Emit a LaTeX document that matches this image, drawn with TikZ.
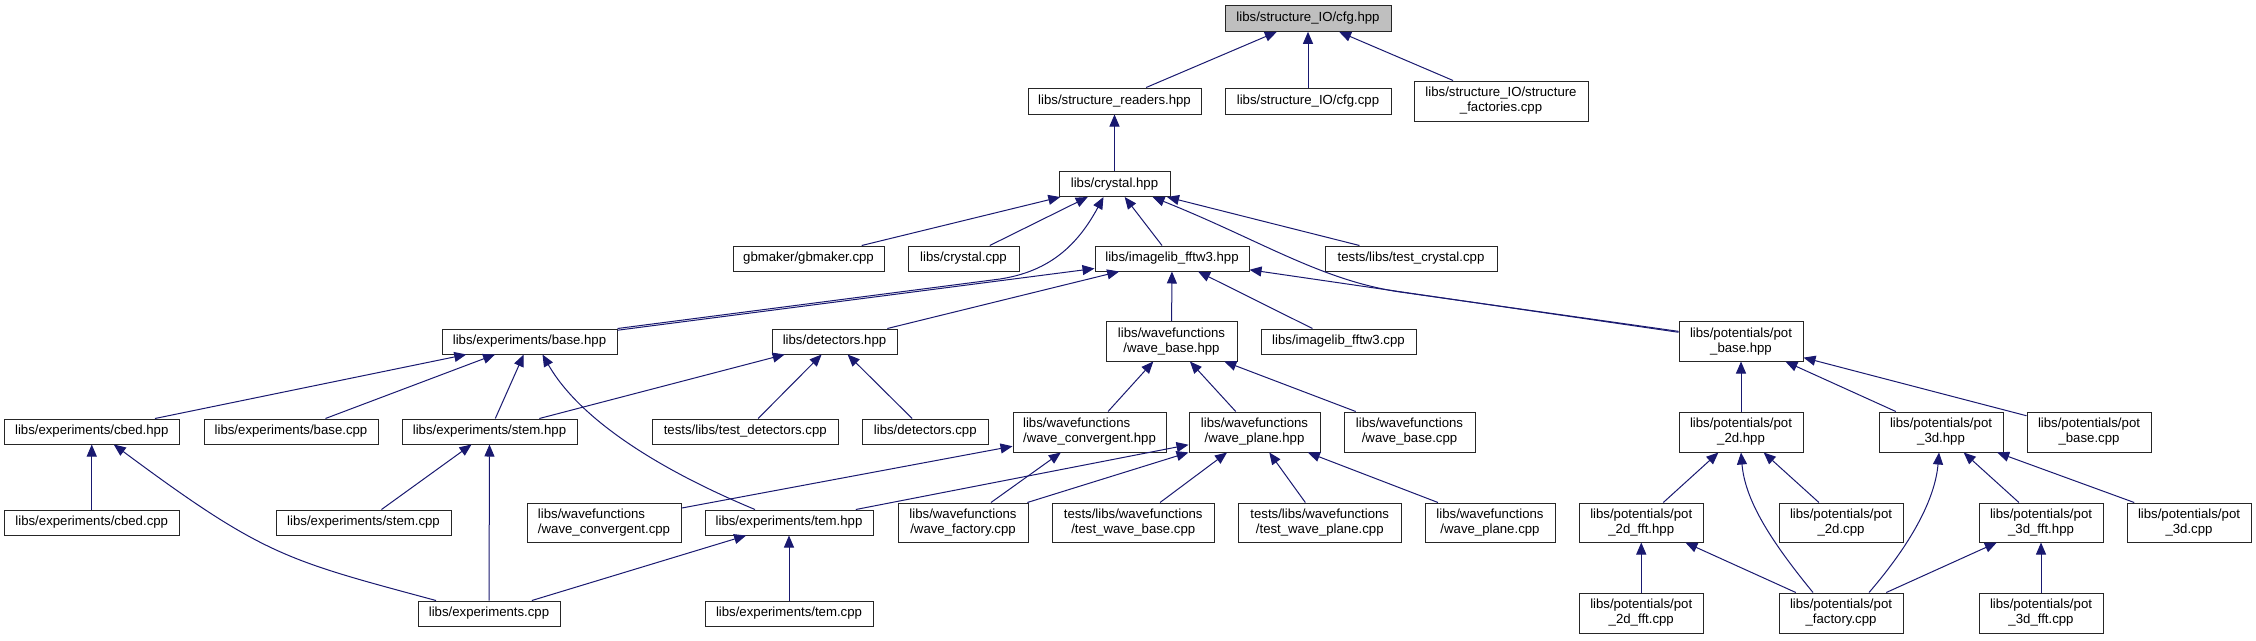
\documentclass[tikz,border=0pt]{standalone}
\usepackage{fontspec}
\setmainfont{Liberation Sans}
\usetikzlibrary{arrows.meta}
\definecolor{midnightblue}{HTML}{191970}
\definecolor{rootgray}{HTML}{BFBFBF}
\tikzset{
  box/.style={draw=black!85, line width=1pt, fill=white, inner sep=0pt, align=center,
    font=\fontsize{13.2}{15}\selectfont},
  rootbox/.style={box, fill=rootgray},
  edge/.style={draw=midnightblue, line width=1pt, -{Triangle[length=12pt,width=10pt]}},
}
\newcommand\gbox[7][box]{\node[#1, minimum width={#5-#3}, minimum height={#6-#4}] (#2) at ({(#3+#5)/2},{(#4+#6)/2}) {#7};}
\begin{document}
\begin{tikzpicture}[x=1pt,y=-1pt]
\useasboundingbox[fill=white] (0,0) rectangle (2256,640);
% row 1
\gbox[rootbox]{cfgh}{1225}{5.7}{1391}{31.3}{libs/structure\_IO/cfg.hpp}
% row 2
\gbox{readers}{1028}{88}{1201}{114}{libs/structure\_readers.hpp}
\gbox{cfgc}{1225}{88}{1391}{114}{libs/structure\_IO/cfg.cpp}
\gbox{fact}{1414}{81}{1588}{121}{libs/structure\_IO/structure\\\_factories.cpp}
% row 3
\gbox{crystal}{1059}{171}{1170}{196.5}{libs/crystal.hpp}
% row 4
\gbox{gbm}{733}{246}{884}{271}{gbmaker/gbmaker.cpp}
\gbox{crysc}{908}{246}{1019}{271}{libs/crystal.cpp}
\gbox{img}{1095}{246}{1249}{271}{libs/imagelib\_fftw3.hpp}
\gbox{tcrys}{1325}{246}{1497}{271}{tests/libs/test\_crystal.cpp}
% row 5
\gbox{base}{442}{329}{617}{354}{libs/experiments/base.hpp}
\gbox{det}{772}{329}{897}{354}{libs/detectors.hpp}
\gbox{wbase}{1106}{321.7}{1237}{361}{libs/wavefunctions\\/wave\_base.hpp}
\gbox{imgc}{1261}{329}{1416}{354}{libs/imagelib\_fftw3.cpp}
\gbox{potbase}{1679}{321.7}{1803}{361}{libs/potentials/pot\\\_base.hpp}
% row 6
\gbox{cbed}{4.5}{419}{179}{444}{libs/experiments/cbed.hpp}
\gbox{basec}{204}{419}{378}{444}{libs/experiments/base.cpp}
\gbox{stem}{402}{419}{577}{444}{libs/experiments/stem.hpp}
\gbox{tdet}{652}{419}{838.5}{444}{tests/libs/test\_detectors.cpp}
\gbox{detc}{862.5}{419}{988}{444}{libs/detectors.cpp}
\gbox[box,align=left]{wconv}{1013}{412}{1166}{452}{libs/wavefunctions\\/wave\_convergent.hpp}
\gbox{wplane}{1189}{412}{1320}{452}{libs/wavefunctions\\/wave\_plane.hpp}
\gbox{wbasec}{1344}{412}{1475}{452}{libs/wavefunctions\\/wave\_base.cpp}
\gbox{p2d}{1679}{412}{1803}{452}{libs/potentials/pot\\\_2d.hpp}
\gbox{p3d}{1879}{412}{2003}{452}{libs/potentials/pot\\\_3d.hpp}
\gbox{pbasec}{2027}{412}{2151}{452}{libs/potentials/pot\\\_base.cpp}
% row 7
\gbox{cbedc}{4.5}{510}{179}{535}{libs/experiments/cbed.cpp}
\gbox{stemc}{276}{510}{451}{535}{libs/experiments/stem.cpp}
\gbox[box,align=left]{wconvc}{527}{503}{681}{542}{libs/wavefunctions\\/wave\_convergent.cpp}
\gbox{tem}{705}{510}{873}{535}{libs/experiments/tem.hpp}
\gbox{wfact}{898}{503}{1028}{542}{libs/wavefunctions\\/wave\_factory.cpp}
\gbox{twbase}{1052}{503}{1214.5}{542}{tests/libs/wavefunctions\\/test\_wave\_base.cpp}
\gbox{twplane}{1238.5}{503}{1401}{542}{tests/libs/wavefunctions\\/test\_wave\_plane.cpp}
\gbox{wplanec}{1425}{503}{1555}{542}{libs/wavefunctions\\/wave\_plane.cpp}
\gbox{p2dfft}{1579.5}{503}{1703}{542}{libs/potentials/pot\\\_2d\_fft.hpp}
\gbox{p2dc}{1779}{503}{1903}{542}{libs/potentials/pot\\\_2d.cpp}
\gbox{p3dfft}{1979}{503}{2103}{542}{libs/potentials/pot\\\_3d\_fft.hpp}
\gbox{p3dc}{2127}{503}{2251}{542}{libs/potentials/pot\\\_3d.cpp}
% row 8
\gbox{expc}{418}{601}{560}{626}{libs/experiments.cpp}
\gbox{temc}{705}{601}{873}{626}{libs/experiments/tem.cpp}
\gbox{p2dfftc}{1579.5}{593}{1703}{633}{libs/potentials/pot\\\_2d\_fft.cpp}
\gbox{pfact}{1779}{593}{1903}{633}{libs/potentials/pot\\\_factory.cpp}
\gbox{p3dfftc}{1979}{593}{2103}{633}{libs/potentials/pot\\\_3d\_fft.cpp}

% edges
\draw[edge] (readers) -- (cfgh);
\draw[edge] (cfgc) -- (cfgh);
\draw[edge] (fact) -- (cfgh);
\draw[edge] (crystal) -- (readers);
\draw[edge] (gbm) -- (crystal);
\draw[edge] (crysc) -- (crystal);
\draw[edge] (img) -- (crystal);
\draw[edge] (tcrys) -- (crystal);
\draw[edge] (base.north east) -- (1000,279) .. controls (1045,272) and (1075,250) .. ([xshift=-11pt]crystal.south);
\draw[edge] ([yshift=10pt]potbase.west) -- (1400,292) .. controls (1320,280) and (1260,240) .. ([xshift=38pt]crystal.south);
\draw[edge] (base) -- (img);
\draw[edge] (det) -- (img);
\draw[edge] (wbase) -- (img);
\draw[edge] (imgc) -- (img);
\draw[edge] (potbase) -- (img);
\draw[edge] (cbed) -- (base);
\draw[edge] (basec) -- (base);
\draw[edge] (stem) -- (base);
\draw[edge] ([xshift=-34pt]tem.north) .. controls (660,470) and (580,420) .. ([xshift=13pt]base.south);
\draw[edge] (stem) -- (det);
\draw[edge] (tdet) -- (det);
\draw[edge] (detc) -- (det);
\draw[edge] (wconv) -- (wbase);
\draw[edge] (wplane) -- (wbase);
\draw[edge] (wbasec) -- (wbase);
\draw[edge] (p2d) -- (potbase);
\draw[edge] (p3d) -- (potbase);
\draw[edge] (pbasec) -- (potbase);
\draw[edge] (cbedc) -- (cbed);
\draw[edge] ([xshift=-53pt]expc.north) .. controls (286,560) and (264,556) .. ([xshift=22pt]cbed.south);
\draw[edge] (stemc) -- (stem);
\draw[edge] (expc) -- (stem);
\draw[edge] (expc) -- (tem);
\draw[edge] (temc) -- (tem);
\draw[edge] (wconvc) -- (wconv);
\draw[edge] (wfact) -- (wconv);
\draw[edge] (wfact) -- (wplane);
\draw[edge] (tem) -- (wplane);
\draw[edge] (twbase) -- (wplane);
\draw[edge] (twplane) -- (wplane);
\draw[edge] (wplanec) -- (wplane);
\draw[edge] (p2dfft) -- (p2d);
\draw[edge] (p2dc) -- (p2d);
\draw[edge] ([xshift=-28pt]pfact.north) .. controls (1770,540) and (1745,500) .. (p2d.south);
\draw[edge] ([xshift=28pt]pfact.north) .. controls (1910,545) and (1935,500) .. ([xshift=-2pt]p3d.south);
\draw[edge] (p3dfft) -- (p3d);
\draw[edge] (p3dc) -- (p3d);
\draw[edge] (p2dfftc) -- (p2dfft);
\draw[edge] (pfact) -- (p2dfft);
\draw[edge] (pfact) -- (p3dfft);
\draw[edge] (p3dfftc) -- (p3dfft);
\end{tikzpicture}
\end{document}
